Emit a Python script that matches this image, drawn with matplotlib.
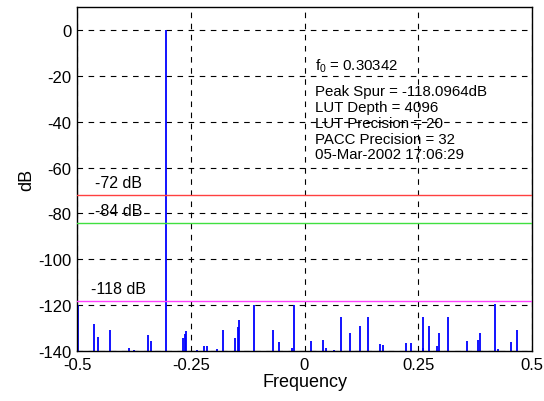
import matplotlib
matplotlib.use('Agg')
import matplotlib.pyplot as plt
import numpy as np

plt.rcParams['font.family'] = ['Liberation Sans', 'DejaVu Sans']
plt.rcParams['axes.unicode_minus'] = False
plt.rcParams['mathtext.default'] = 'regular'

# spectrum: main tone plus small spurs (frequency, level in dB)
F0 = -0.30342
PEAK_DB = 0.0
spur_freq = [-0.497, -0.462, -0.453, -0.427, -0.386, -0.374, -0.345, -0.338,
             -0.267, -0.262, -0.260, -0.236, -0.220, -0.215, -0.192, -0.180,
             -0.153, -0.147, -0.143, -0.111, -0.070, -0.057, -0.027, -0.022,
             0.015, 0.040, 0.048, 0.065, 0.081, 0.101, 0.122, 0.139,
             0.167, 0.172, 0.208, 0.224, 0.233, 0.260, 0.261, 0.274,
             0.291, 0.295, 0.315, 0.358, 0.382, 0.385, 0.419, 0.426,
             0.454, 0.467]
spur_db = [-120.0, -128.1, -134.0, -130.7, -138.7, -139.6, -133.1, -135.7,
           -134.3, -132.4, -131.4, -139.6, -138.0, -138.0, -139.3, -130.7,
           -134.3, -129.6, -126.7, -120.1, -130.7, -136.0, -138.7, -120.0,
           -135.7, -135.4, -138.6, -139.6, -125.3, -132.1, -129.3, -125.3,
           -137.0, -137.4, -139.9, -136.7, -136.7, -138.9, -125.0, -129.3,
           -138.0, -132.1, -125.3, -135.7, -135.0, -132.1, -119.6, -139.1,
           -136.1, -130.7]

# reference levels
ref_db = [-72, -84, -118]
ref_colors = ['#ff4040', '#40e040', '#ff40ff']
ref_labels = ['-72 dB', '-84 dB', '-118 dB']

info_lines = ['$f_0$ = 0.30342', 'Peak Spur = -118.0964dB', 'LUT Depth = 4096',
              'LUT Precision = 20', 'PACC Precision = 32', '05-Mar-2002 17:06:29']
info_y = [-17.3, -28.3, -35.3, -42.2, -49.1, -56.0]

x_ticks = [-0.5, -0.25, 0, 0.25, 0.5]
x_tick_labels = ['-0.5', '-0.25', '0', '0.25', '0.5']
y_ticks = np.arange(-140, 1, 20)

BOTTOM = -140

fig = plt.figure(figsize=(5.44, 4.02), dpi=100)
ax = fig.add_axes([77/544, 1 - 352/402, 455/544, 344/402])

ax.vlines(spur_freq, BOTTOM, spur_db, color='#0000ff', linewidth=1.3)
ax.vlines([F0], BOTTOM, [PEAK_DB], color='#0000ff', linewidth=1.3)

for lev, col, lab in zip(ref_db, ref_colors, ref_labels):
    ax.axhline(lev, color=col, linewidth=1.0, zorder=3)
    ax.text(-0.408, lev + 3.3, lab, fontsize=11.5, va='baseline', ha='center')

for yy, s in zip(info_y, info_lines):
    ax.text(0.023, yy, s, fontsize=10.8, va='baseline', ha='left')

ax.set_xlim(-0.5, 0.5)
ax.set_ylim(-140, 10)
ax.set_xticks(x_ticks)
ax.set_xticklabels(x_tick_labels)
ax.set_yticks(y_ticks)
ax.tick_params(direction='in', length=0, labelsize=12, pad=4)
ax.grid(True, color='k', linestyle=(0, (5, 5)), linewidth=0.8)
ax.set_axisbelow(True)
for sp in ax.spines.values():
    sp.set_linewidth(1.0)
ax.set_xlabel('Frequency', fontsize=13, labelpad=1)
ax.set_ylabel('dB', fontsize=13, labelpad=2)

fig.savefig('out.png', dpi=100)
